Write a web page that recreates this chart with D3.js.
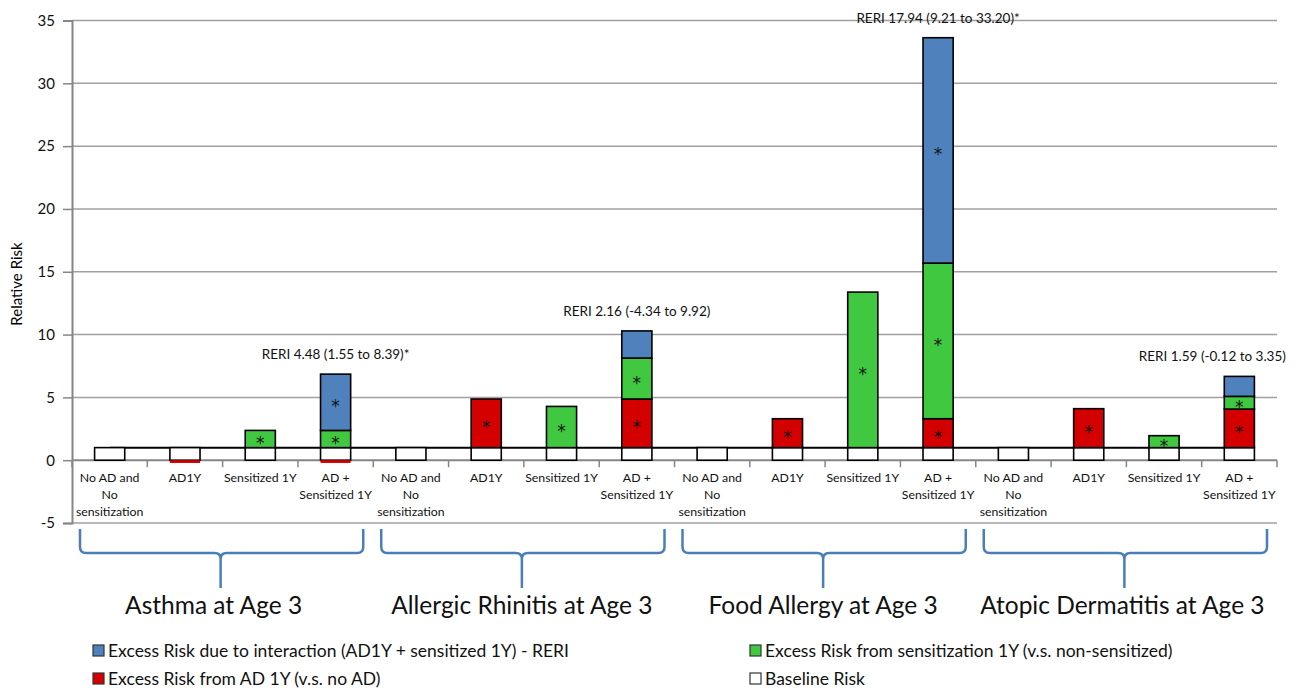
<!DOCTYPE html>
<html lang="en">
<head>
  <meta charset="UTF-8">
  <title>Relative risk stacked bars</title>
  <script src="https://d3js.org/d3.v7.min.js"></script>
  <style>
    body { margin: 0; background: #fff; font-family: Lato, "Open Sans", sans-serif; }
    .grid line { stroke: #a0a0a0; stroke-width: 1.5px; }
    .cat-label { font-size: 12.3px; fill: #111; }
    .tick-label { font-size: 15px; fill: #111; font-family: Lato, sans-serif; }
    .reri { font-size: 13.5px; fill: #111; }
    .outcome { font-size: 24.5px; fill: #111; }
    .legend text { font-size: 17.5px; fill: #111; }
    .star { font-size: 17px; fill: #111; text-anchor: middle; font-family: "DejaVu Sans", sans-serif; }
  </style>
</head>
<body>
  <svg width="1300" height="694"></svg>
  <script>
    // ---- data ----
    var categories = ["No AD and\nNo\nsensitization", "AD1Y", "Sensitized 1Y", "AD +\nSensitized 1Y"];
    var outcomes = ["Asthma at Age 3", "Allergic Rhinitis at Age 3", "Food Allergy at Age 3", "Atopic Dermatitis at Age 3"];
    var baselineRisk = [1, 1, 1, 1, 1, 1, 1, 1, 1, 1, 1, 1, 1, 1, 1, 1];
    var excessAD   = [0, -0.22, 0, -0.22, 0, 3.87, 0, 3.87, 0, 2.30, 0, 2.30, 0, 3.10, 0, 3.07];
    var excessSens = [0, 0, 1.37, 1.37, 0, 0, 3.28, 3.26, 0, 0, 12.38, 12.39, 0, 0, 0.95, 1.01];
    var excessRERI = [0, 0, 0, 4.48, 0, 0, 0, 2.16, 0, 0, 0, 17.94, 0, 0, 0, 1.59];
    var sigAD   = [0, 0, 0, 0, 0, 1, 0, 1, 0, 1, 0, 1, 0, 1, 0, 1];
    var sigSens = [0, 0, 1, 1, 0, 0, 1, 1, 0, 0, 1, 1, 0, 0, 1, 1];
    var sigRERI = [0, 0, 0, 1, 0, 0, 0, 0, 0, 0, 0, 1, 0, 0, 0, 0];
    var reriLabels = ["RERI 4.48 (1.55 to 8.39)*", "RERI 2.16 (-4.34 to 9.92)", "RERI 17.94 (9.21 to 33.20)*", "RERI 1.59 (-0.12 to 3.35)"];
    var yTicks = [-5, 0, 5, 10, 15, 20, 25, 30, 35];

    var series = [
      {key: "reri", name: "Excess Risk due to interaction (AD1Y + sensitized 1Y) - RERI", color: "#4f81bd", values: excessRERI, sig: sigRERI},
      {key: "sens", name: "Excess Risk from sensitization 1Y (v.s. non-sensitized)", color: "#41c841", values: excessSens, sig: sigSens},
      {key: "ad", name: "Excess Risk from AD 1Y (v.s. no AD)", color: "#d40000", values: excessAD, sig: sigAD},
      {key: "base", name: "Baseline Risk", color: "#ffffff", values: baselineRisk, sig: null}
    ];
    var stackOrder = ["base", "ad", "sens", "reri"];

    var rows = baselineRisk.map(function(d, i) {
      return {i: i, base: baselineRisk[i], ad: excessAD[i], sens: excessSens[i], reri: excessRERI[i]};
    });

    var svg = d3.select("svg"),
        plotL = 72, plotR = 1277, plotT = 20.5, plotB = 523;

    var x = d3.scaleBand().domain(d3.range(rows.length)).range([plotL, plotR]).paddingInner(0).paddingOuter(0);
    var y = d3.scaleLinear().domain([-5, 35]).range([plotB, plotT]);
    var barW = x.bandwidth() * 0.4;
    var colorOf = {};
    series.forEach(function(s) { colorOf[s.key] = s; });

    // gridlines
    svg.append("g").attr("class", "grid")
      .selectAll("line").data(yTicks.filter(function(t) { return t !== 0; }))
      .enter().append("line")
      .attr("x1", plotL).attr("x2", plotR)
      .attr("y1", function(d) { return y(d); }).attr("y2", function(d) { return y(d); });

    // y axis
    var yAxis = svg.append("g")
      .attr("transform", "translate(" + plotL + ",0)")
      .call(d3.axisLeft(y).tickValues(yTicks).tickFormat(String).tickSize(9).tickPadding(8));
    yAxis.attr("font-family", null).attr("font-size", null);
    yAxis.select(".domain").attr("stroke", "#868686").attr("stroke-width", 2);
    yAxis.selectAll(".tick line").attr("stroke", "#868686").attr("stroke-width", 1.5);
    yAxis.selectAll(".tick text").attr("class", "tick-label").attr("fill", "#111");

    // category axis at zero
    svg.append("line")
      .attr("x1", plotL).attr("x2", plotR)
      .attr("y1", y(0)).attr("y2", y(0))
      .attr("stroke", "#868686").attr("stroke-width", 2);
    svg.append("g").selectAll("line").data(d3.range(rows.length + 1))
      .enter().append("line")
      .attr("x1", function(d) { return plotL + d * x.step(); })
      .attr("x2", function(d) { return plotL + d * x.step(); })
      .attr("y1", y(0)).attr("y2", y(0) + 7)
      .attr("stroke", "#868686").attr("stroke-width", 1.5);

    // y label
    svg.append("text")
      .attr("transform", "translate(22,284) rotate(-90)")
      .attr("text-anchor", "middle")
      .style("font-size", "15px")
      .text("Relative Risk");

    // baseline reference line (value 1)
    svg.append("path")
      .datum(baselineRisk)
      .attr("fill", "none").attr("stroke", "#000").attr("stroke-width", 2)
      .attr("d", d3.line()
        .x(function(d, i) { return x(i) + x.bandwidth() / 2; })
        .y(function(d) { return y(d); }));

    // stacked bars
    var stacked = d3.stack().keys(stackOrder).offset(d3.stackOffsetDiverging)(rows);
    var segs = [];
    stacked.forEach(function(layer) {
      layer.forEach(function(p, i) {
        if (p[1] !== p[0]) segs.push({key: layer.key, i: i, y0: p[0], y1: p[1]});
      });
    });

    svg.append("g").selectAll("rect").data(segs).enter().append("rect")
      .attr("x", function(d) { return x(d.i) + (x.bandwidth() - barW) / 2; })
      .attr("width", barW)
      .attr("y", function(d) { return y(Math.max(d.y0, d.y1)); })
      .attr("height", function(d) { return Math.abs(y(d.y0) - y(d.y1)); })
      .attr("fill", function(d) { return colorOf[d.key].color; })
      .attr("stroke", function(d) { return Math.min(d.y0, d.y1) < 0 ? "none" : "#000"; })
      .attr("stroke-width", 1.6);

    // significance stars
    svg.append("g").selectAll("text")
      .data(segs.filter(function(d) { var s = colorOf[d.key].sig; return s && s[d.i]; }))
      .enter().append("text")
      .attr("class", "star")
      .attr("x", function(d) { return x(d.i) + x.bandwidth() / 2; })
      .attr("y", function(d) { return y((d.y0 + d.y1) / 2) + 10; })
      .text("*");

    // category labels
    var catG = svg.append("g").selectAll("text").data(rows).enter().append("text")
      .attr("class", "cat-label")
      .attr("text-anchor", "middle")
      .attr("x", function(d) { return x(d.i) + x.bandwidth() / 2; })
      .attr("y", 482);
    catG.each(function(d) {
      var lines = categories[d.i % 4].split("\n");
      d3.select(this).selectAll("tspan").data(lines).enter().append("tspan")
        .attr("x", x(d.i) + x.bandwidth() / 2)
        .attr("dy", function(l, k) { return k === 0 ? 0 : 17; })
        .text(function(l) { return l; });
    });

    // RERI labels
    var reriIdx = [3, 7, 11, 15];
    var reriShift = [0, 0, 0, -27];
    svg.append("g").selectAll("text").data(reriLabels).enter().append("text")
      .attr("class", "reri")
      .attr("text-anchor", "middle")
      .attr("x", function(d, k) { return x(reriIdx[k]) + x.bandwidth() / 2 + reriShift[k]; })
      .attr("y", function(d, k) {
        var i = reriIdx[k];
        return y(baselineRisk[i] + excessSens[i] + excessRERI[i] + Math.max(excessAD[i], 0)) - 15;
      })
      .text(function(d) { return d; });

    // braces and outcome labels
    var groupW = x.step() * 4;
    var labelShift = [-9, -2, -2, -4];
    var brace = svg.append("g");
    outcomes.forEach(function(name, g) {
      var x0 = plotL + g * groupW + 8, x1 = plotL + (g + 1) * groupW - 10,
          xm = plotL + g * groupW + groupW / 2 - 2,
          yt = 529, yh = 553, yb = 588, r = 6;
      var p = "M" + x0 + "," + yt +
              " L" + x0 + "," + (yh - r) + " Q" + x0 + "," + yh + " " + (x0 + r) + "," + yh +
              " L" + (xm - r) + "," + yh + " Q" + xm + "," + yh + " " + xm + "," + (yh + r) +
              " L" + xm + "," + yb +
              " M" + xm + "," + (yh + r) + " Q" + xm + "," + yh + " " + (xm + r) + "," + yh +
              " L" + (x1 - r) + "," + yh + " Q" + x1 + "," + yh + " " + x1 + "," + (yh - r) +
              " L" + x1 + "," + yt;
      brace.append("path").attr("d", p)
        .attr("fill", "none").attr("stroke", "#4a7ebb").attr("stroke-width", 2.5);
      svg.append("text").attr("class", "outcome")
        .attr("text-anchor", "middle")
        .attr("x", plotL + g * groupW + groupW / 2 + labelShift[g])
        .attr("y", 614)
        .text(name);
    });

    // legend
    var legendPos = [[93, 651], [750, 651], [93, 679], [750, 679]];
    var leg = svg.append("g").attr("class", "legend").selectAll("g").data(series).enter().append("g")
      .attr("transform", function(d, k) { return "translate(" + legendPos[k][0] + "," + legendPos[k][1] + ")"; });
    leg.append("rect").attr("x", 0).attr("y", -6).attr("width", 11).attr("height", 11)
      .attr("fill", function(d) { return d.color; }).attr("stroke", "#333").attr("stroke-width", 1.2);
    leg.append("text").attr("x", 15).attr("y", 6).text(function(d) { return d.name; });
  </script>
</body>
</html>
